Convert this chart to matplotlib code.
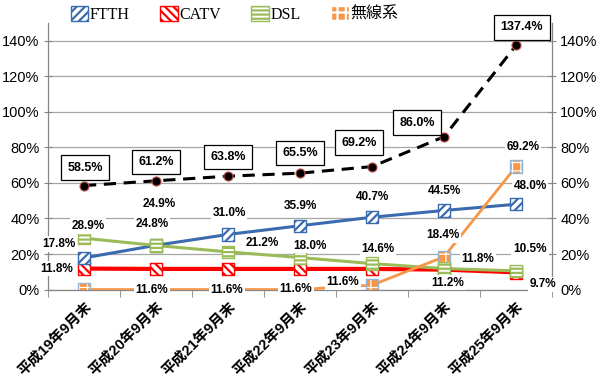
import matplotlib
matplotlib.use('Agg')
import matplotlib.pyplot as plt
from matplotlib.patches import Patch

plt.rcParams['font.family'] = ['Liberation Sans', 'Noto Sans CJK JP']
plt.rcParams['hatch.linewidth'] = 1.6

# ---- data ----
periods = ['平成19年9月末', '平成20年9月末', '平成21年9月末', '平成22年9月末',
           '平成23年9月末', '平成24年9月末', '平成25年9月末']
ftth = [17.8, 24.9, 31.0, 35.9, 40.7, 44.5, 48.0]
catv = [11.8, 11.6, 11.6, 11.6, 11.6, 11.2, 9.7]
dsl = [28.9, 24.8, 21.2, 18.0, 14.6, 11.8, 10.5]
wireless = [0.0, 0.0, 0.0, 0.0, 2.5, 18.4, 69.2]
total = [58.5, 61.2, 63.8, 65.5, 69.2, 86.0, 137.4]
yticks = [0, 20, 40, 60, 80, 100, 120, 140]
legend_names = ['FTTH', 'CATV', 'DSL', '無線系']

# label offsets in pixels (dx, dy), None = no label
ftth_off = [(-25, 14), (3, 41), (1, 21), (0, 20), (0, 20), (0, 19), (14, 18)]
dsl_off = [(4, 12), (-4, 21), (34, 9), (10, 12), (6, 15), (34, 10), (14, 22)]
catv_off = [(-27, 0), (-4, -21), (-1, -21), (-4, -20), (-29, -13), (4, -13), (27, -12)]
wire_off = [None, None, None, None, None, (-1, 22), (7, 20)]
total_off = [(1, 18), (0, 19), (0, 19), (0, 20), (-13, 24), (-27, 14), (6, 18)]

blue = '#3A6BAE'
red = '#FF0000'
green = '#9BBB59'
orange = '#F79646'

fig = plt.figure(figsize=(6, 3.84), dpi=100)
ax = fig.add_axes([0.08, 0.246, 0.84, 0.694])
x = list(range(len(periods)))

ax.plot(x, ftth, color=blue, lw=2.2, zorder=3)
ax.plot(x, catv, color=red, lw=3, zorder=3)
ax.plot(x, dsl, color=green, lw=2.2, zorder=3)
ax.plot(x, wireless, color=orange, lw=2, zorder=3)
ax.plot(x, total, color='black', lw=2.2, ls=(0, (4, 2.5)), marker='o', ms=6.5,
        mfc='black', mec='#C0504D', mew=0.8, zorder=6)

# hatched square markers
def hatched(vals, face, edge, hatch, z, lw=1):
    ax.scatter(x, vals, s=80, marker='s', facecolor=face, edgecolor=edge,
               linewidths=lw, hatch=hatch, zorder=z)

hatched(catv, 'white', red, '\\\\\\\\', 4)
hatched(ftth, 'white', blue, '////', 4)
hatched(dsl, 'white', green, '----', 5)
with plt.rc_context({'hatch.linewidth': 0.9}):
    hatched(wireless, orange, 'white', '++', 4, lw=0)
hatched(wireless, 'none', '#95B3D7', None, 4)

# data labels
box = dict(boxstyle='square,pad=0.15', fc='white', ec='none')
def labels(vals, offs):
    for i, (v, o) in enumerate(zip(vals, offs)):
        if o is None:
            continue
        ax.annotate(f'{v:.1f}%', (i, v), xytext=o, textcoords='offset pixels',
                    ha='center', va='center', fontsize=8.5, fontweight='bold',
                    bbox=box, zorder=8)

labels(ftth, ftth_off)
labels(dsl, dsl_off)
labels(catv, catv_off)
labels(wireless, wire_off)
for i, (v, o) in enumerate(zip(total, total_off)):
    ax.annotate(f'{v:.1f}%', (i, v), xytext=o, textcoords='offset pixels',
                ha='center', va='center', fontsize=9, fontweight='bold',
                bbox=dict(boxstyle='square,pad=0.5', fc='white', ec='black', lw=0.9),
                zorder=9)

# axes styling
ax.set_xlim(-0.5, 6.5)
ax.set_ylim(0, 150)
ax.set_yticks(yticks)
ax.set_yticklabels([f'{t}%' for t in yticks])
ax.yaxis.grid(True, color='#A6A6A6', lw=0.9, zorder=0)
ax.set_axisbelow(True)
ax.yaxis.set_ticks_position('both')
ax.tick_params(axis='y', direction='inout', length=6, color='#868686',
               labelright=True, labelsize=10.5, pad=3)
ax.set_xticks(x)
ax.set_xticklabels(periods, rotation=45, ha='right', va='top',
                   rotation_mode='anchor', fontsize=10.5, fontweight='bold')
ax.tick_params(axis='x', length=0, pad=7)
ax.set_xticks([i - 0.5 for i in range(len(periods) + 1)], minor=True)
ax.tick_params(axis='x', which='minor', direction='out', length=5, color='#868686')
ax.spines['top'].set_visible(False)
for s in ['left', 'right', 'bottom']:
    ax.spines[s].set_color('#868686')
    ax.spines[s].set_linewidth(0.9)

# legend
with plt.rc_context({'hatch.linewidth': 0.9}):
    wl_patch = Patch(facecolor=orange, edgecolor='white', hatch='++')
handles = [
    Patch(facecolor='white', edgecolor=blue, hatch='////'),
    Patch(facecolor='white', edgecolor=red, hatch='\\\\\\\\'),
    Patch(facecolor='white', edgecolor=green, hatch='----'),
    wl_patch,
]
fig.legend(handles, legend_names, loc='upper left', bbox_to_anchor=(0.118, 0.985),
           ncol=4, frameon=False, handlelength=1.1, handleheight=1.1,
           handletextpad=0.1, columnspacing=1.9, borderpad=0, borderaxespad=0,
           prop={'family': ['Liberation Serif', 'Noto Sans CJK JP'], 'size': 11.5})

fig.savefig('out.png', dpi=100)
